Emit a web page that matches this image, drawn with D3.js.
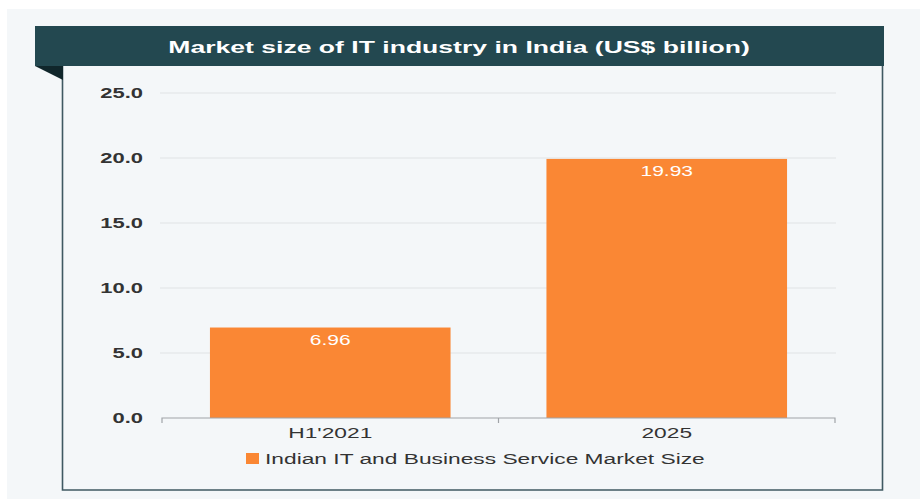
<!DOCTYPE html>
<html>
<head>
<meta charset="utf-8">
<script src="https://cdn.jsdelivr.net/npm/d3@7"></script>
<style>
  body { margin: 0; background: #fff; }
  svg { display: block; font-family: "Liberation Sans", Arial, sans-serif; }
</style>
</head>
<body>
<div id="chart"></div>
<script>
const categories = ["H1'2021", "2025"];
const marketSize = [6.96, 19.93];
const yTicks = [0, 5, 10, 15, 20, 25];
const chartTitle = "Market size of IT industry in India (US$ billion)";
const seriesName = "Indian IT and Business Service Market Size";

const W = 920, H = 499;
const SX = 1.57; // the source picture is stretched sideways
const svg = d3.select('#chart').append('svg')
  .attr('width', W).attr('height', H);

// helper: text stretched horizontally around its anchor
const wideText = (parent, tx, ty, sx) => parent.append('g')
  .attr('transform', `translate(${tx},${ty}) scale(${sx},1)`)
  .append('text');

// page background
svg.append('rect').attr('x', 7).attr('y', 9).attr('width', W - 7).attr('height', H - 9)
  .attr('fill', '#f4f7f9');

// panel border
svg.append('path')
  .attr('d', 'M62.5,66 L62.5,490 L882.5,490 L882.5,66')
  .attr('fill', 'none').attr('stroke', '#3f5962').attr('stroke-width', 1.6);

// title band with fold
svg.append('path').attr('d', 'M35,66 L63,66 L63,80 Z').attr('fill', '#10262b');
svg.append('rect').attr('x', 35).attr('y', 26).attr('width', 849).attr('height', 40)
  .attr('fill', '#234850');
wideText(svg, 459, 52.5, 1.61)
  .attr('text-anchor', 'middle').attr('fill', '#fff')
  .attr('font-size', 16.5).attr('font-weight', 'bold')
  .text(chartTitle);

// scales
const x = d3.scaleBand().domain(categories).range([162, 835])
  .paddingInner(0.285).paddingOuter(0.1425);
const y = d3.scaleLinear().domain([0, 25]).range([418, 93]);

// gridlines
svg.append('g').selectAll('line').data(yTicks.filter(d => d > 0)).join('line')
  .attr('x1', 160).attr('x2', 836)
  .attr('y1', d => y(d)).attr('y2', d => y(d))
  .attr('stroke', '#e0e3e5').attr('stroke-width', 1);

// y labels
const yLab = svg.append('g');
yTicks.forEach(d => {
  wideText(yLab, 143, y(d) + 5, SX)
    .attr('text-anchor', 'end').attr('fill', '#333')
    .attr('font-size', 14).attr('font-weight', 'bold')
    .text(d.toFixed(1));
});

// bars
svg.append('g').selectAll('rect').data(marketSize).join('rect')
  .attr('x', (d, i) => x(categories[i]))
  .attr('y', d => y(d))
  .attr('width', x.bandwidth())
  .attr('height', d => y(0) - y(d))
  .attr('fill', '#fa8734');

// value labels
const vLab = svg.append('g');
marketSize.forEach((d, i) => {
  wideText(vLab, x(categories[i]) + x.bandwidth() / 2, y(d) + 17.5, 1.5)
    .attr('text-anchor', 'middle').attr('fill', '#fff')
    .attr('font-size', 14)
    .text(d.toFixed(2));
});

// x axis
const xAxis = svg.append('g').attr('transform', `translate(0,${y(0)})`);
xAxis.append('path')
  .attr('d', `M162,5 L162,0 L835,0 L835,5 M${(162 + 835) / 2},0 L${(162 + 835) / 2},5`)
  .attr('fill', 'none').attr('stroke', '#a0a4a8').attr('stroke-width', 1.2);
categories.forEach(c => {
  wideText(xAxis, x(c) + x.bandwidth() / 2, 19.5, SX)
    .attr('text-anchor', 'middle').attr('fill', '#333')
    .attr('font-size', 14.5)
    .text(c);
});

// legend
const legend = svg.append('g').attr('transform', 'translate(246,453)');
legend.append('rect').attr('width', 13).attr('height', 11).attr('fill', '#fa8734');
wideText(legend, 19, 11, SX)
  .attr('fill', '#333').attr('font-size', 14.5)
  .text(seriesName);
</script>
</body>
</html>
